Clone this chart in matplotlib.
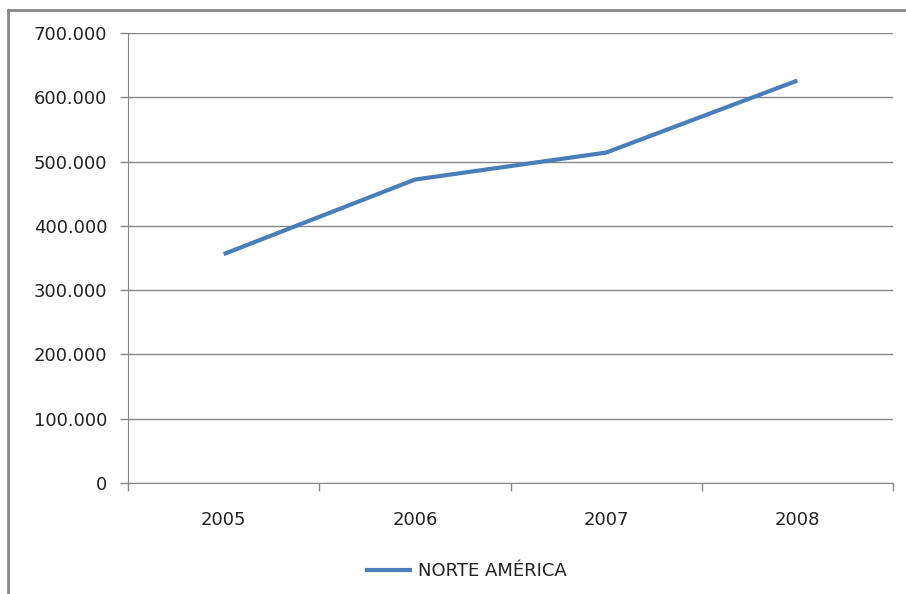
import matplotlib
matplotlib.use("Agg")
import matplotlib.pyplot as plt
from matplotlib.lines import Line2D
from matplotlib.ticker import FuncFormatter

years = ["2005", "2006", "2007", "2008"]
values = [356000, 472000, 514000, 626000]
series_name = "NORTE AMÉRICA"

plt.rcParams['font.family'] = ['DejaVu Sans']

W, H = 906, 594
fig = plt.figure(figsize=(W/100, H/100), dpi=100)

L, R, T, B = 128, 893, 33, 483
ax = fig.add_axes([L/W, 1 - B/H, (R-L)/W, (B-T)/H])

x = [i + 0.5 for i in range(len(years))]
line, = ax.plot(x, values, color="#4a7ebb", lw=3, solid_capstyle="butt", zorder=3)

ax.set_xlim(0, len(years))
ax.set_ylim(0, 700000)
ax.set_yticks(range(0, 700001, 100000))
ax.yaxis.set_major_formatter(FuncFormatter(lambda v, p: "0" if v == 0 else f"{int(v):,}".replace(",", ".")))
ax.set_xticks(range(len(years) + 1))
ax.set_xticklabels([])
ax.set_xticks(x, minor=True)
ax.set_xticklabels(years, minor=True)
ax.tick_params(axis="x", which="minor", length=0, pad=20, labelsize=13, colors="#222222")
ax.tick_params(axis="x", which="major", length=6, color="#868686", width=1)
ax.tick_params(axis="y", length=6, color="#868686", width=1, pad=9, labelsize=13, labelcolor="#222222")

ax.grid(axis="y", color="#868686", lw=1)
for s in ["top", "right"]:
    ax.spines[s].set_visible(False)
ax.spines["left"].set_color("#868686")
ax.spines["bottom"].set_color("#868686")

# legend
leg = fig.legend([line], [series_name], loc="center", bbox_to_anchor=(466/W, 1 - 571/H),
                 frameon=False, fontsize=13, handlelength=2.6, handletextpad=0.3)
for t in leg.get_texts():
    t.set_color("#222222")

# outer frame
fig.add_artist(Line2D([8/W, 1], [1 - 10/H, 1 - 10/H], color="#868686", lw=2))
fig.add_artist(Line2D([8/W, 8/W], [0, 1 - 10/H], color="#868686", lw=2))

fig.savefig("out.png", dpi=100, facecolor="white")
